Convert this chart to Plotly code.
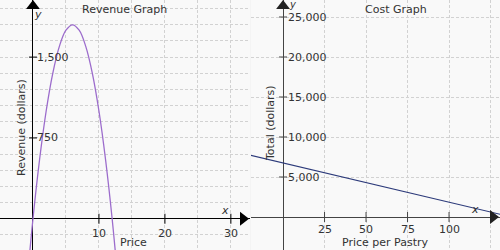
import plotly.graph_objects as go

# ---- data ----
price = [-1, 0, 1, 2, 3, 4, 5, 6, 7, 8, 9, 10, 11, 12, 13]
revenue = [-650, 0, 550, 1000, 1350, 1600, 1750, 1800, 1750, 1600, 1350, 1000, 550, 0, -650]

pastry_price = [-20, 131]
total_cost = [7730, 330]

rev_xticks = [10, 20, 30]
rev_yticks = [750, 1500]
cost_xticks = [25, 50, 75, 100]
cost_yticks = [5000, 10000, 15000, 20000, 25000]

rev_xrange = [-5, 32.9]
rev_yrange = [-290, 2030]
cost_xrange = [-19.3, 130.7]
cost_yrange = [-4125, 27125]

FONT = "DejaVu Sans"
TXT = "#333333"

fig = go.Figure()
fig.add_trace(go.Scatter(x=price, y=revenue, mode="lines", line=dict(color="#9c6ccc", width=1.3, shape="spline"),
                         xaxis="x", yaxis="y", showlegend=False, hoverinfo="skip"))
fig.add_trace(go.Scatter(x=pastry_price, y=total_cost, mode="lines", line=dict(color="#2c3a7a", width=1.2),
                         xaxis="x2", yaxis="y2", showlegend=False, hoverinfo="skip"))

W, H = 500, 250

# axis arrows
for xa, ya, xr, yr, col in [("x", "y", rev_xrange, rev_yrange, "black"), ("x2", "y2", cost_xrange, cost_yrange, "#222222")]:
    ky = H / (yr[1] - yr[0])
    kx = 250 / (xr[1] - xr[0])
    fig.add_trace(go.Scatter(x=[0], y=[yr[1] - 6 / ky], mode="markers",
                             marker=dict(symbol="triangle-up", size=12, color=col, line=dict(width=0)),
                             xaxis=xa, yaxis=ya, showlegend=False, hoverinfo="skip", cliponaxis=False))
    fig.add_trace(go.Scatter(x=[xr[1] - 7 / kx], y=[0], mode="markers",
                             marker=dict(symbol="triangle-right", size=12, color=col, line=dict(width=0)),
                             xaxis=xa, yaxis=ya, showlegend=False, hoverinfo="skip", cliponaxis=False))

shapes = []
annotations = []

def add_ticks(xa, ya, xt, yt, col, xshift_lbl, yshift_lbl):
    for t in xt:
        shapes.append(dict(type="line", xref=xa, yref=ya, x0=t, x1=t, y0=-5, y1=5, ysizemode="pixel",
                           yanchor=0, line=dict(color=col, width=1)))
        annotations.append(dict(x=t, y=0, xref=xa, yref=ya, text=str(t), showarrow=False, yanchor="top",
                                yshift=yshift_lbl, font=dict(family=FONT, size=11, color=TXT)))
    for t in yt:
        shapes.append(dict(type="line", xref=xa, yref=ya, y0=t, y1=t, x0=-4, x1=4, xsizemode="pixel",
                           xanchor=0, line=dict(color=col, width=1)))
        annotations.append(dict(x=0, y=t, xref=xa, yref=ya, text=f"{t:,}", showarrow=False, xanchor="left",
                                xshift=xshift_lbl, font=dict(family=FONT, size=11, color=TXT)))

add_ticks("x", "y", rev_xticks, rev_yticks, "black", 2, -6)
add_ticks("x2", "y2", cost_xticks, cost_yticks, "#444444", 3, -4)

def paper_ann(x, y, text, size=11, angle=0, italic=False, xanchor="center"):
    annotations.append(dict(x=x / W, y=1 - y / H, xref="paper", yref="paper", text=text, showarrow=False,
                            textangle=angle, xanchor=xanchor, yanchor="middle",
                            font=dict(family=FONT, size=size, color=TXT, style="italic" if italic else "normal")))

paper_ann(124, 9, "Revenue Graph", 11)
paper_ann(396, 9, "Cost Graph", 11)
paper_ann(133, 242, "Price", 11)
paper_ann(385, 242, "Price per Pastry", 11)
paper_ann(21, 128, "Revenue (dollars)", 11, angle=-90)
paper_ann(270, 123, "Total (dollars)", 11, angle=-90)
paper_ann(38, 14, "y", 11, italic=True)
paper_ann(293, 4, "y", 10, italic=True)
paper_ann(225, 210, "x", 11, italic=True)
paper_ann(475, 209, "x", 11, italic=True)

grid = dict(showgrid=True, gridcolor="#d2d2d2", griddash="3px,2px", gridwidth=1, showticklabels=False,
            ticks="", showline=False, zeroline=True, fixedrange=True)

fig.update_layout(
    width=W, height=H, margin=dict(l=0, r=0, t=0, b=0),
    paper_bgcolor="#f4f4f4", plot_bgcolor="#f9f9f9",
    xaxis=dict(domain=[0, 0.5], range=rev_xrange, dtick=5, tick0=0, zerolinecolor="black", zerolinewidth=1, **grid),
    yaxis=dict(domain=[0, 1], range=rev_yrange, dtick=150, tick0=0, zerolinecolor="black", zerolinewidth=1, **grid),
    xaxis2=dict(domain=[0.502, 1], range=cost_xrange, dtick=25, tick0=0, zerolinecolor="#444444", zerolinewidth=1.3, anchor="y2", **grid),
    yaxis2=dict(domain=[0, 1], range=cost_yrange, dtick=5000, tick0=0, zerolinecolor="#444444", zerolinewidth=1, anchor="x2", **grid),
    shapes=shapes, annotations=annotations,
)

fig.write_html("out.html")
